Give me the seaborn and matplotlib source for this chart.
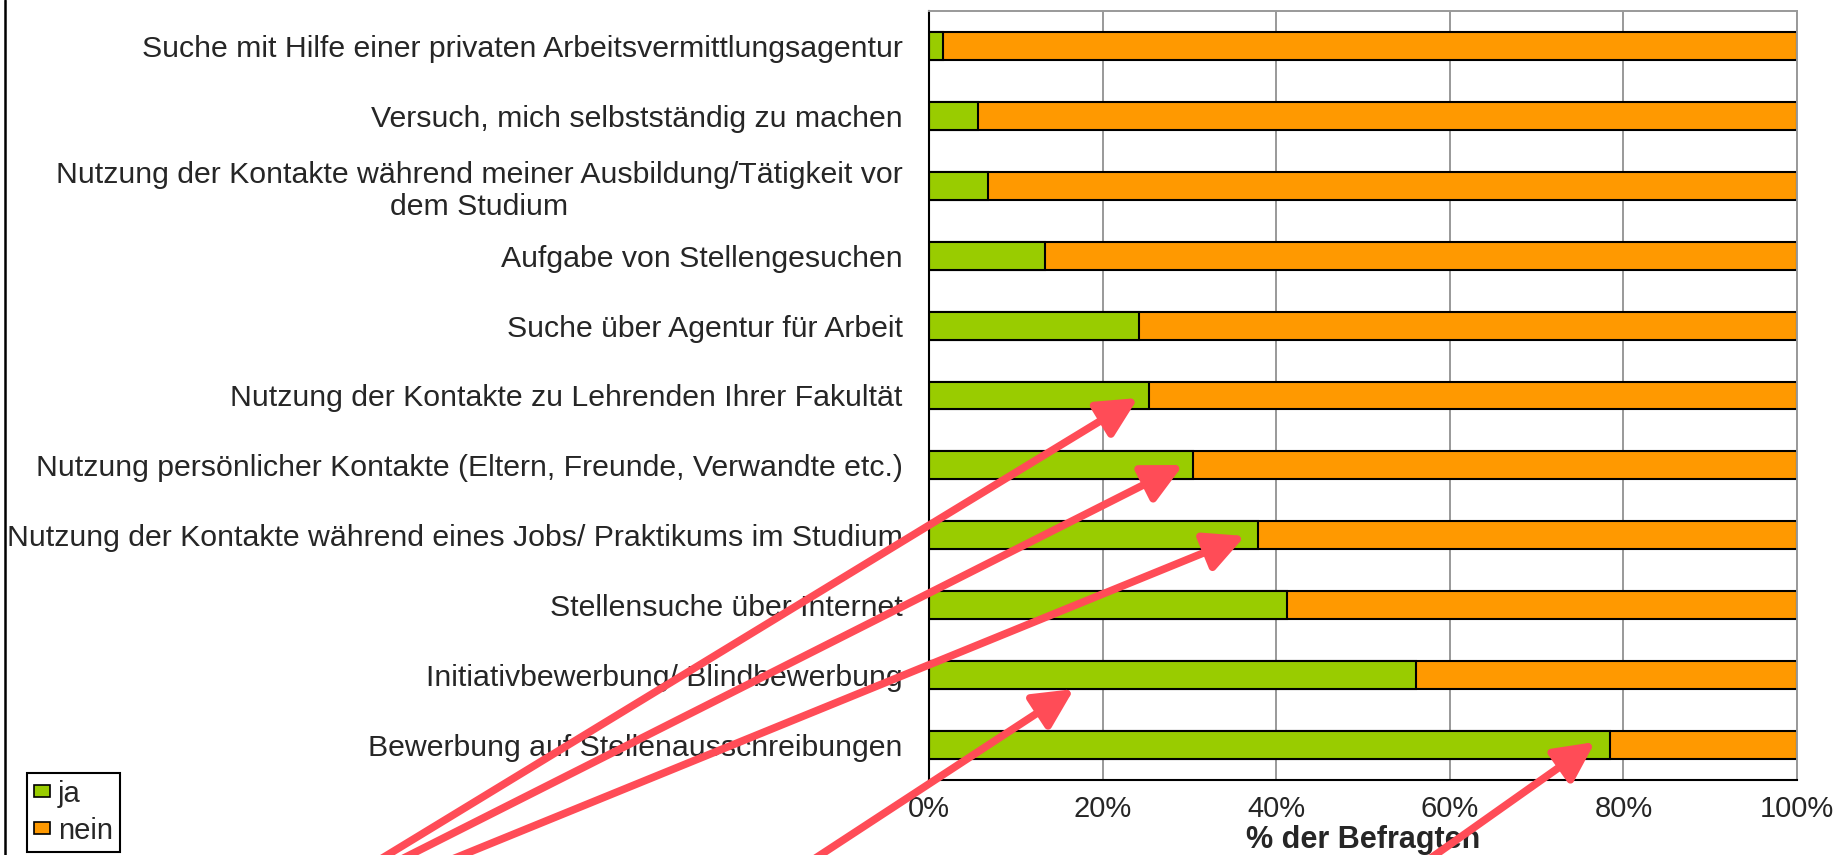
import numpy as np
import pandas as pd
import matplotlib
matplotlib.use("Agg")
import matplotlib.pyplot as plt
from matplotlib.patches import Patch, FancyArrowPatch
from matplotlib.lines import Line2D
import seaborn as sns

# ---------------- data ----------------
categories = [
    "Suche mit Hilfe einer privaten Arbeitsvermittlungsagentur",
    "Versuch, mich selbstständig zu machen",
    "Nutzung der Kontakte während meiner Ausbildung/Tätigkeit vor\ndem Studium",
    "Aufgabe von Stellengesuchen",
    "Suche über Agentur für Arbeit",
    "Nutzung der Kontakte zu Lehrenden Ihrer Fakultät",
    "Nutzung persönlicher Kontakte (Eltern, Freunde, Verwandte etc.)",
    "Nutzung der Kontakte während eines Jobs/ Praktikums im Studium",
    "Stellensuche über Internet",
    "Initiativbewerbung/ Blindbewerbung",
    "Bewerbung auf Stellenausschreibungen",
]
ja = [1.6, 5.7, 6.8, 13.4, 24.2, 25.3, 30.4, 37.9, 41.3, 56.1, 78.4]
nein = [100 - v for v in ja]
series_names = ["ja", "nein"]
x_ticks = [0, 20, 40, 60, 80, 100]
x_tick_labels = ["0%", "20%", "40%", "60%", "80%", "100%"]
x_label = "% der Befragten"

# overlay arrows (figure pixels, measured from top-left): tail -> head
arrow_tails = [(371, 865), (390, 865), (438, 865), (805, 865), (1421, 865)]
arrow_heads = [(1138, 398), (1183, 465), (1245, 536), (1074, 689), (1595, 742)]

# ---------------- style ----------------
sns.set_style("white")
plt.rcParams["font.family"] = ["Liberation Sans", "DejaVu Sans"]
GREEN = "#99CC00"
ORANGE = "#FF9900"
ARROW = "#FF4C57"
FS = 21
FS_Y = 21.8

W, H = 1837, 855
fig = plt.figure(figsize=(W / 100, H / 100), dpi=100)
ax = fig.add_axes([929 / W, 1 - 780 / H, (1797 - 929) / W, (780 - 11) / H])

df = pd.DataFrame({"cat": categories, "ja": ja, "nein": nein})
df["total"] = df["ja"] + df["nein"]

sns.barplot(data=df, x="total", y="cat", color=ORANGE, saturation=1, width=0.4,
            edgecolor="black", linewidth=1.5, orient="h", ax=ax)
sns.barplot(data=df, x="ja", y="cat", color=GREEN, saturation=1, width=0.4,
            edgecolor="black", linewidth=1.5, orient="h", ax=ax)

ax.set_xlim(0, 100)
ax.set_ylim(len(categories) - 0.5, -0.5)
ax.set_xticks(x_ticks)
ax.set_xticklabels(x_tick_labels, fontsize=FS)
ax.set_yticks(range(len(categories)))
ax.set_yticklabels(categories, fontsize=FS_Y, ha="right", multialignment="center")
ax.set_yticks(np.arange(-0.5, len(categories)), minor=True)
ax.tick_params(axis="y", which="major", length=0, pad=19)
ax.tick_params(axis="y", which="minor", length=6, width=1.5, direction="out", color="black")
ax.tick_params(axis="x", which="major", length=6, width=1.5, direction="out", color="black", pad=5)
ax.set_ylabel("")
ax.set_xlabel(x_label, fontsize=22, fontweight="bold", labelpad=1)

ax.xaxis.grid(True, color="#999999", linewidth=1.4)
ax.yaxis.grid(False)
ax.set_axisbelow(True)
for side in ["left", "bottom"]:
    ax.spines[side].set_color("black")
    ax.spines[side].set_linewidth(1.5)
for side in ["top", "right"]:
    ax.spines[side].set_color("#999999")
    ax.spines[side].set_linewidth(1.4)

handles = [Patch(facecolor=GREEN, edgecolor="black", linewidth=1.2),
           Patch(facecolor=ORANGE, edgecolor="black", linewidth=1.2)]
leg = fig.legend(handles, series_names, loc="lower left",
                 bbox_to_anchor=(27 / W, 1 - 852 / H), borderaxespad=0,
                 fontsize=FS, frameon=True, fancybox=False, framealpha=1,
                 handlelength=0.55, handleheight=0.25, handletextpad=0.25,
                 borderpad=0.25, labelspacing=0.3)
leg.get_frame().set_edgecolor("black")
leg.get_frame().set_linewidth(1.5)

# left frame line of chart area
fig.add_artist(Line2D([5 / W, 5 / W], [0, 1], transform=fig.transFigure,
                      color="black", linewidth=1.8))

# red overlay arrows
for (tx, ty), (hx, hy) in zip(arrow_tails, arrow_heads):
    arr = FancyArrowPatch((tx / W, 1 - ty / H), (hx / W, 1 - hy / H),
                          transform=fig.transFigure,
                          arrowstyle="-|>,head_length=24,head_width=12",
                          mutation_scale=1, color=ARROW, linewidth=5.5,
                          shrinkA=0, shrinkB=0, zorder=10)
    fig.add_artist(arr)

fig.savefig("out.png", dpi=100)
